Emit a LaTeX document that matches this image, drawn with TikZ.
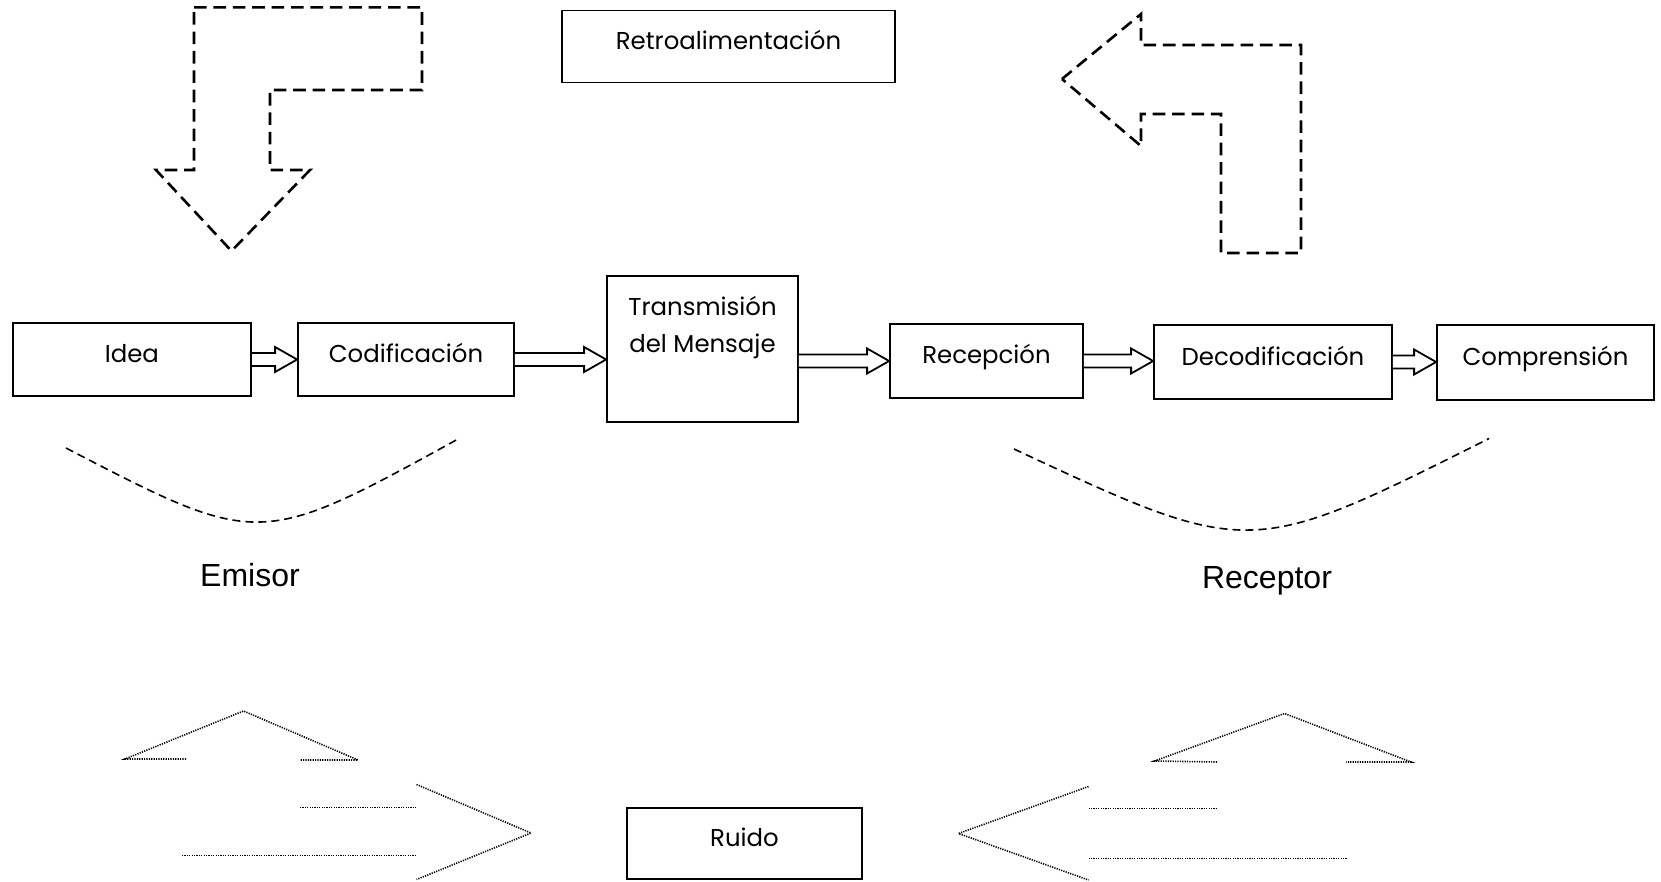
\documentclass[tikz,border=0pt]{standalone}
\usepackage{fontspec}
\setmainfont{Poppins}
\newfontfamily\arial{Liberation Sans}
\usetikzlibrary{calc}

% flecha de bloque entre dos cajas
\newcommand{\flecha}[2]{%
  \draw[bloque] let \p1=#1, \p2=#2 in
    (\x1,{\y1+3.25pt}) -- ({\x2-11pt},{\y1+3.25pt}) -- ({\x2-11pt},{\y1+6.25pt})
    -- (\x2,\y1) -- ({\x2-11pt},{\y1-6.25pt}) -- ({\x2-11pt},{\y1-3.25pt}) -- (\x1,{\y1-3.25pt});}

\begin{document}
\begin{tikzpicture}[x=0.5pt, y=-0.5pt,
    caja/.style={draw, line width=0.9pt, minimum height=36.5pt, inner sep=0pt,
        text height=9pt, text depth=6pt, font=\fontsize{12.2}{18}\selectfont},
    bloque/.style={line width=0.9pt, fill=white},
    flechota/.style={line width=1.3pt, dash pattern=on 6.3pt off 3.4pt},
    arco/.style={line width=0.8pt, dash pattern=on 4pt off 2.5pt},
    ruido/.style={line width=0.8pt, dash pattern=on 0.6pt off 0.6pt}]

    \useasboundingbox (0,0) rectangle (1661,882);

    % Retroalimentacion
    \node[caja, minimum width=166.5pt, minimum height=36pt] (retro) at (728.5,46.6) {Retroalimentación};
    \draw[flechota] (194,7.4) -- (422,7.4) -- (422,90) -- (270,90) -- (270,170) -- (310,170)
        -- (231.5,251) -- (156,170) -- (194,170) -- cycle;
    \draw[flechota] (1062,79) -- (1141,14) -- (1141,45) -- (1301,45) -- (1301,253) -- (1221,253)
        -- (1221,114) -- (1141,114) -- (1141,146) -- cycle;

    % Proceso
    \node[caja, minimum width=119.2pt] (idea) at (131.9,359.5) {Idea};
    \node[caja, minimum width=108pt] (codif) at (406,359.5) {Codificación};
    \node[caja, minimum width=95.5pt, minimum height=73pt,
        label={[align=center, anchor=north, yshift=-7pt, font=\fontsize{12.2}{18.5}\selectfont]north:Transmisión\\del Mensaje}] (trans) at (702.5,349) {};
    \node[caja, minimum width=96.5pt, minimum height=37pt] (recep) at (986.5,361) {Recepción};
    \node[caja, minimum width=119pt, minimum height=37pt] (decod) at (1273,362) {Decodificación};
    \node[caja, minimum width=108.5pt, minimum height=37.5pt] (compr) at (1545.5,362.5) {Comprensión};

    \flecha{(idea.east)}{(codif.west)}
    \flecha{(codif.east)}{(trans.west)}
    \flecha{(trans.east |- recep.west)}{(recep.west)}
    \flecha{(recep.east)}{(decod.west)}
    \flecha{(decod.east)}{(compr.west)}

    % Emisor y receptor
    \draw[arco] (66,448) .. controls (259.2,548.3) .. (459,438.5);
    \draw[arco] (1014,449) .. controls (1249.5,558.8) .. (1489,438.5);
    \node[font=\arial\fontsize{16}{18}\selectfont] (emisor) at (250,575) {Emisor};
    \node[font=\arial\fontsize{16}{18}\selectfont] (receptor) at (1267,581) {Receptor};

    % Ruido
    \node[caja, minimum width=117.5pt, minimum height=35.5pt] (ruido) at (744.5,843.5) {Ruido};
    \draw[ruido] (186,759) -- (125,759) -- (243.5,711) -- (358,760) -- (300,760);
    \draw[ruido] (300,807.5) -- (416.5,807.5);
    \draw[ruido] (182,855.5) -- (416.5,855.5);
    \draw[ruido] (416.5,784.5) -- (531,833) -- (416.5,879.5);
    \draw[ruido] (1217,762) -- (1154.5,761) -- (1284.5,713.5) -- (1411,762) -- (1346,762);
    \draw[ruido] (1088.5,808.5) -- (1218,808.5);
    \draw[ruido] (1088.5,858.3) -- (1346.5,858.3);
    \draw[ruido] (1088.5,786.5) -- (958.5,833.5) -- (1088.5,880);
\end{tikzpicture}
\end{document}
